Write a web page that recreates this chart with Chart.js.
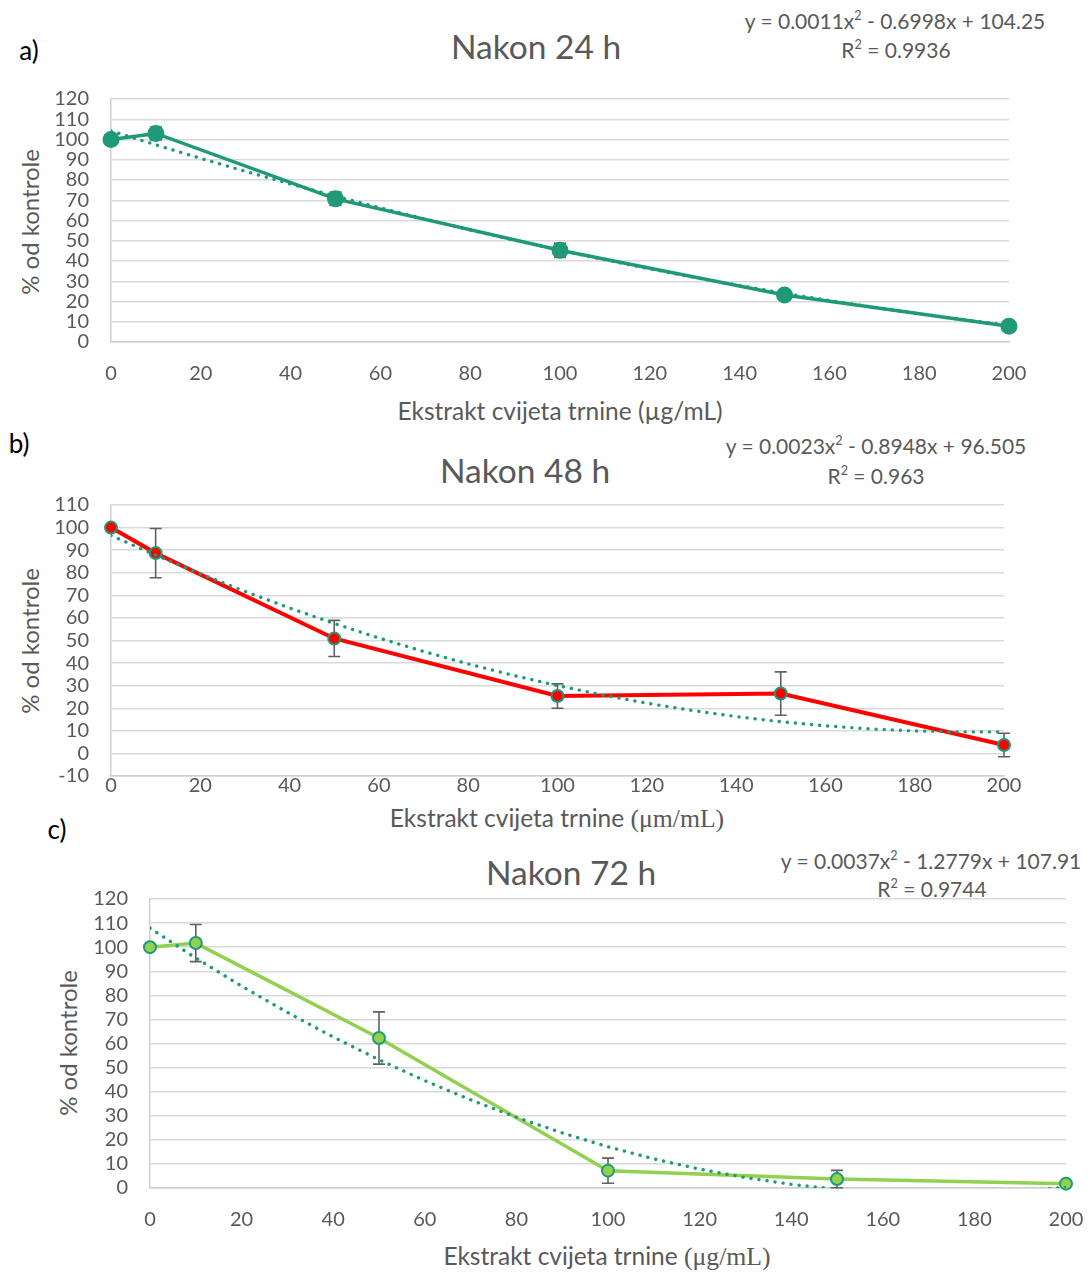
<!DOCTYPE html>
<html>
<head>
<meta charset="utf-8">
<script src="https://cdn.jsdelivr.net/npm/chart.js@4.4.1/dist/chart.umd.min.js"></script>
<style>
body{margin:0;background:#fff;width:1089px;height:1274px;position:relative;overflow:hidden;font-family:Lato,sans-serif;color:#595959}
canvas{position:absolute;left:0}
.t{position:absolute;transform:translate(-50%,-50%);white-space:nowrap;line-height:1}
.title{font-size:33.5px}
.eq{font-size:21px}
.ax{font-size:24.5px}
.yax{font-size:24px}
.yt{transform:translate(-50%,-50%) rotate(-90deg)}
.lt{font-size:26px;color:#000}
.serif{font-family:"Liberation Serif",serif;font-size:1.05em}
sup{font-size:0.6em;vertical-align:0.7em;line-height:0}
</style>
</head>
<body>
<!-- panel a -->
<div class="t lt" style="left:29px;top:50px">a)</div>
<div class="t title" style="left:536px;top:47px">Nakon 24 h</div>
<div class="t eq" style="left:895px;top:20px">y = 0.0011x<sup>2</sup> - 0.6998x + 104.25</div>
<div class="t eq" style="left:896px;top:49px">R<sup>2</sup> = 0.9936</div>
<div class="t yax yt" style="left:30px;top:222px">% od kontrole</div>
<div class="t ax" style="left:560px;top:411px">Ekstrakt cvijeta trnine (µg/mL)</div>
<canvas id="chartA" width="1089" height="333" style="top:67px"></canvas>

<!-- panel b -->
<div class="t lt" style="left:19px;top:443px">b)</div>
<div class="t title" style="left:525px;top:471px">Nakon 48 h</div>
<div class="t eq" style="left:876px;top:445px">y = 0.0023x<sup>2</sup> - 0.8948x + 96.505</div>
<div class="t eq" style="left:876px;top:475px">R<sup>2</sup> = 0.963</div>
<div class="t yax yt" style="left:30px;top:641px">% od kontrole</div>
<div class="t ax" style="left:557px;top:819px">Ekstrakt cvijeta trnine <span class="serif">(μm/mL)</span></div>
<canvas id="chartB" width="1089" height="335" style="top:473px"></canvas>

<!-- panel c -->
<div class="t lt" style="left:57px;top:829px">c)</div>
<div class="t title" style="left:571px;top:873px">Nakon 72 h</div>
<div class="t eq" style="left:931px;top:860px">y = 0.0037x<sup>2</sup> - 1.2779x + 107.91</div>
<div class="t eq" style="left:932px;top:888px">R<sup>2</sup> = 0.9744</div>
<div class="t yax yt" style="left:68px;top:1043px">% od kontrole</div>
<div class="t ax" style="left:607px;top:1257px">Ekstrakt cvijeta trnine <span class="serif">(μg/mL)</span></div>
<canvas id="chartC" width="1104" height="383" style="top:867px"></canvas>

<script>
// concentrations (ug/mL)
const doseX = [0, 10, 50, 100, 150, 200];

// % of control, mean and error
const mean24 = [100, 103, 70.7, 45.3, 23.2, 7.8];
const err24 = [0, 3.2, 3.3, 3.5, 1.5, 1.2];
const mean48 = [100, 88.7, 50.9, 25.4, 26.5, 3.7];
const err48 = [0, 10.9, 8, 5.4, 9.6, 5.2];
const mean72 = [100, 101.7, 62.3, 7.2, 3.7, 1.8];
const err72 = [0, 7.7, 10.85, 5.2, 3.6, 0.5];

// polynomial trendlines every 10 ug/mL
const trendX = [0, 10, 20, 30, 40, 50, 60, 70, 80, 90, 100, 110, 120, 130, 140, 150, 160, 170, 180, 190, 200];
const trend24 = [104.25, 97.36, 90.69, 84.25, 78.02, 72.01, 66.22, 60.65, 55.31, 50.18, 45.27, 40.58, 36.11, 31.87, 27.84, 24.03, 20.44, 17.07, 13.93, 11.0, 8.29];
const trend48 = [96.51, 87.79, 79.53, 71.73, 64.39, 57.52, 51.1, 45.14, 39.64, 34.6, 30.03, 25.91, 22.25, 19.05, 16.31, 14.04, 12.22, 10.86, 9.96, 9.52, 9.55];
const trend72 = [107.91, 95.5, 83.83, 72.9, 62.71, 53.27, 44.56, 36.59, 29.36, 22.87, 17.12, 12.11, 7.84, 4.31, 1.52, -0.53, -1.83, -2.4, -2.23, -1.32, 0.33];

const yTicks24 = [0, 120];
const yTicks48 = [-10, 110];
const yTicks72 = [0, 120];

const teal = '#1f9a78';
const grey = '#595959';
const gridGrey = '#d9d9d9';

Chart.defaults.font.family = 'Lato';

// vertical error bars with caps, drawn under the line
const errorBars = {
    id: 'errorBars',
    beforeDatasetsDraw(chart) {
        const ctx = chart.ctx;
        const xs = chart.scales.x, ys = chart.scales.y;
        ctx.save();
        ctx.strokeStyle = '#606060';
        ctx.lineWidth = 1.6;
        chart.data.datasets.forEach(ds => {
            if (!ds.errors) return;
            ds.data.forEach((p, j) => {
                const e = ds.errors[j];
                if (!e) return;
                const x = xs.getPixelForValue(p.x);
                const y1 = ys.getPixelForValue(p.y + e);
                const y2 = ys.getPixelForValue(p.y - e);
                ctx.beginPath();
                ctx.moveTo(x, y1); ctx.lineTo(x, y2);
                ctx.moveTo(x - 6, y1); ctx.lineTo(x + 6, y1);
                ctx.moveTo(x - 6, y2); ctx.lineTo(x + 6, y2);
                ctx.stroke();
            });
        });
        ctx.restore();
    }
};

function makePanel(id, means, errs, trend, look, yRange, box) {
    return new Chart(document.getElementById(id), {
        type: 'line',
        data: {
            datasets: [{
                data: trendX.map((x, i) => ({x: x, y: trend[i]})),
                borderColor: teal,
                borderWidth: 3.4,
                borderDash: [0.1, 8],
                borderCapStyle: 'round',
                pointRadius: 0,
                order: 0
            }, {
                data: doseX.map((x, i) => ({x: x, y: means[i]})),
                errors: errs,
                borderColor: look.line,
                borderWidth: look.w,
                pointRadius: look.r,
                pointBackgroundColor: look.fill,
                pointBorderColor: look.edge,
                pointBorderWidth: 2,
                clip: false,
                order: 1
            }]
        },
        options: {
            responsive: false,
            animation: false,
            layout: {padding: {top: 32, right: box.right, left: 0, bottom: 0}},
            plugins: {legend: {display: false}, tooltip: {enabled: false}},
            scales: {
                x: {
                    type: 'linear', min: 0, max: 200,
                    ticks: {stepSize: 20, padding: box.xPad, color: grey, font: {size: 20}, autoSkip: false, maxRotation: 0},
                    grid: {color: 'rgba(0,0,0,0)', drawTicks: false},
                    border: {color: '#cfcfcf', width: 1.5},
                    afterFit: s => { s.height = box.xh; }
                },
                y: {
                    min: yRange[0], max: yRange[1],
                    ticks: {stepSize: 10, padding: 22, color: grey, font: {size: 20, lineHeight: 1}, autoSkip: false},
                    grid: {color: gridGrey, lineWidth: 1.5, drawTicks: false},
                    border: {color: '#cfcfcf', width: 1.5},
                    afterFit: s => { s.width = box.yw; }
                }
            }
        },
        plugins: [errorBars]
    });
}

makePanel('chartA', mean24, err24, trend24,
    {line: teal, fill: teal, edge: teal, r: 7.5, w: 3.5},
    yTicks24, {right: 80, xh: 58, xPad: 20, yw: 111});

makePanel('chartB', mean48, err48, trend48,
    {line: '#ff0000', fill: '#ff0000', edge: teal, r: 6, w: 4},
    yTicks48, {right: 85, xh: 31, xPad: -2, yw: 111});

makePanel('chartC', mean72, err72, trend72,
    {line: '#92d050', fill: '#92d050', edge: teal, r: 6, w: 3.5},
    yTicks72, {right: 38, xh: 62, xPad: 20, yw: 150});
</script>
</body>
</html>
